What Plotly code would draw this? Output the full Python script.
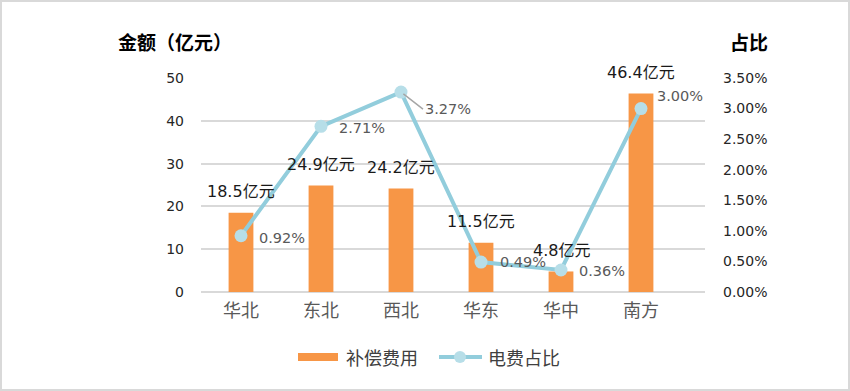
import plotly.graph_objects as go

categories = ["华北", "东北", "西北", "华东", "华中", "南方"]
compensation = [18.5, 24.9, 24.2, 11.5, 4.8, 46.4]
share = [0.0092, 0.0271, 0.0327, 0.0049, 0.0036, 0.0300]
bar_labels = ["18.5亿元", "24.9亿元", "24.2亿元", "11.5亿元", "4.8亿元", "46.4亿元"]
share_labels = ["0.92%", "2.71%", "3.27%", "0.49%", "0.36%", "3.00%"]
legend_names = ["补偿费用", "电费占比"]

NUM = "DejaVu Sans, Noto Sans CJK SC, sans-serif"
CJK = "Noto Sans CJK SC, sans-serif"
W, H = 850, 391
L, R, T, B = 201, 145, 78, 99
pw, ph = W - L - R, H - T - B


def px(x):
    return (x - L) / pw


def py(y):
    return (T + ph - y) / ph


fig = go.Figure()
fig.add_trace(go.Bar(
    x=categories, y=compensation, name=legend_names[0],
    marker=dict(color="#F79646", line=dict(width=0)), width=0.31,
    yaxis="y", showlegend=False,
))
fig.add_trace(go.Scatter(
    x=categories, y=share, name=legend_names[1], mode="lines+markers",
    line=dict(color="#92CDDC", width=4),
    marker=dict(color="#B7DEE8", size=13, line=dict(width=0)),
    yaxis="y2", showlegend=False,
))

ann = []
for c, v, t in zip(categories, compensation, bar_labels):
    ann.append(dict(x=c, y=v, xref="x", yref="y", text=t, showarrow=False,
                    xanchor="center", yanchor="middle", yshift=21,
                    font=dict(family=NUM, size=16, color="#1a1a1a")))
offsets = [(16, -2), (16, -2), (24, -19), (17, 0), (16, -1), (14, 13)]
for i, (c, v, t) in enumerate(zip(categories, share, share_labels)):
    dx, dy = offsets[i]
    if i == 2:
        ann.append(dict(x=c, y=v, xref="x", yref="y2", text=t, showarrow=True,
                        arrowhead=0, arrowcolor="#A6A6A6", arrowwidth=1.5,
                        ax=22, ay=17, xanchor="left", yanchor="middle",
                        standoff=3,
                        font=dict(family=NUM, size=14.5, color="#595959")))
    else:
        ann.append(dict(x=c, y=v, xref="x", yref="y2", text=t, showarrow=False,
                        xanchor="left", yanchor="middle", xshift=dx, yshift=dy,
                        font=dict(family=NUM, size=14.5, color="#595959")))

ann.append(dict(x=px(175), y=py(42), xref="paper", yref="paper",
                text="<b>金额（亿元）</b>", showarrow=False,
                xanchor="center", yanchor="middle",
                font=dict(family=CJK, size=19, color="#000000")))
ann.append(dict(x=px(749), y=py(42), xref="paper", yref="paper",
                text="<b>占比</b>", showarrow=False,
                xanchor="center", yanchor="middle",
                font=dict(family=CJK, size=19, color="#000000")))

# manual legend
ann.append(dict(x=px(344), y=py(357), xref="paper", yref="paper", text=legend_names[0],
                showarrow=False, xanchor="left", yanchor="middle",
                font=dict(family=CJK, size=18, color="#404040")))
ann.append(dict(x=px(486), y=py(357), xref="paper", yref="paper", text=legend_names[1],
                showarrow=False, xanchor="left", yanchor="middle",
                font=dict(family=CJK, size=18, color="#404040")))

shapes = [
    dict(type="rect", xref="paper", yref="paper",
         x0=px(1), x1=px(W - 1), y0=py(H - 1), y1=py(1),
         line=dict(color="#D9D9D9", width=2), layer="below"),
    dict(type="rect", xref="paper", yref="paper",
         x0=px(298), x1=px(338), y0=py(361), y1=py(353),
         fillcolor="#F79646", line=dict(width=0)),
    dict(type="line", xref="paper", yref="paper",
         x0=px(439), x1=px(482), y0=py(357), y1=py(357),
         line=dict(color="#92CDDC", width=4)),
    dict(type="circle", xref="paper", yref="paper",
         x0=px(454), x1=px(466), y0=py(363), y1=py(351),
         fillcolor="#B7DEE8", line=dict(width=0)),
]

fig.update_layout(
    width=W, height=H,
    margin=dict(l=L, r=R, t=T, b=B, pad=0),
    paper_bgcolor="white", plot_bgcolor="white",
    font=dict(family=NUM, size=14, color="#262626"),
    xaxis=dict(showgrid=False, showline=False, ticks="",
               tickfont=dict(family=CJK, size=18, color="#595959"),
               ticklabelstandoff=6),
    yaxis=dict(range=[0, 50], dtick=10, showgrid=True, gridcolor="#D9D9D9", gridwidth=1.5,
               zeroline=True, zerolinecolor="#D9D9D9", zerolinewidth=1.5,
               showline=False, ticks="", ticklabelstandoff=16,
               tickfont=dict(family=NUM, size=14, color="#262626")),
    yaxis2=dict(range=[0, 0.035], dtick=0.005, tickformat=".2%", overlaying="y", side="right",
                showgrid=False, zeroline=False, showline=False, ticks="",
                ticklabelstandoff=17,
                tickfont=dict(family=NUM, size=14, color="#262626")),
    annotations=ann,
    shapes=shapes,
    showlegend=False,
)

fig.write_html("out.html", config={"displayModeBar": False},
               post_script="document.body.style.margin='0px';")
